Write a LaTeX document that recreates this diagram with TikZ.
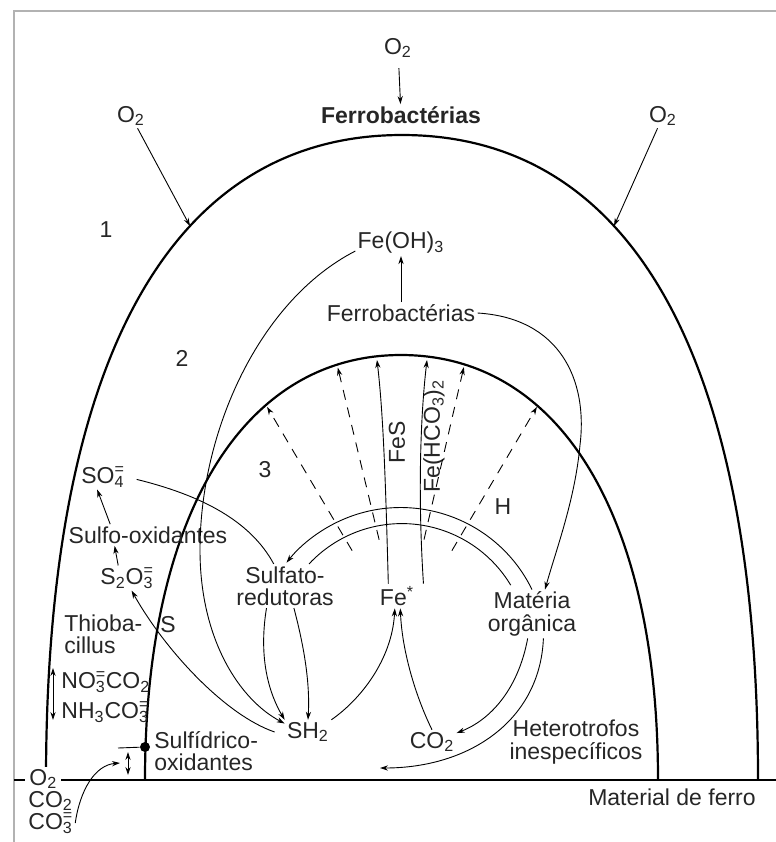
\documentclass[tikz,border=0pt]{standalone}
\usepackage{fontspec}
\setmainfont{Liberation Sans}
\usetikzlibrary{arrows.meta}

\newcommand{\chion}[2]{\rlap{\textsuperscript{#2}}\textsubscript{#1}}

\tikzset{
  arch/.style={line width=1.1pt},
  link/.style={line width=0.45pt},
  flux/.style={link,-{Stealth[length=4pt,width=2.6pt]}},
  dflux/.style={link,{Stealth[length=4pt,width=2.6pt]}-{Stealth[length=4pt,width=2.6pt]}},
  ray/.style={flux,dash pattern=on 5pt off 4pt},
  lbl/.style={inner sep=1pt,align=center,text=black!85},
}

\begin{document}
\begin{tikzpicture}[x=0.5pt,y=-0.5pt,font=\fontsize{11.5}{11.2}\selectfont]
\useasboundingbox (0,0) rectangle (776,842);
% frame and base line
\draw[gray!60,line width=0.6pt] (14,842) -- (14,11) -- (776,11);
\draw[line width=1pt] (14,780) -- (776,780);
% the two arches
\draw[arch] (46,780) .. controls (46,360.75) and (170.6,135) .. (402,135)
  .. controls (633.4,135) and (758,360.75) .. (758,780);
\draw[arch] (145,780) .. controls (145,516.5) and (242.3,355) .. (401,355)
  .. controls (560.3,355) and (658,516.5) .. (658,780);

% labels
\node[lbl] (o2top) at (398,48) {O\textsubscript{2}};
\node[lbl,font=\fontsize{11.5}{11.2}\selectfont\bfseries] (ferrotop) at (401,115) {Ferrobactérias};
\node[lbl] (o2left) at (131,116) {O\textsubscript{2}};
\node[lbl] (o2right) at (663,116) {O\textsubscript{2}};
\node[lbl] (one) at (106,230) {1};
\node[lbl] (two) at (182,358) {2};
\node[lbl] (three) at (265,470) {3};
\node[lbl] (hzone) at (503,507) {H};
\node[lbl] (feoh) at (401,243) {Fe(OH)\textsubscript{3}};
\node[lbl] (ferromid) at (401,313) {Ferrobactérias};
\node[lbl] (so4) at (103,477) {SO\chion{4}{=}};
\node[lbl] (sulfoox) at (148,535) {Sulfo-oxidantes};
\node[lbl] (s2o3) at (127,578) {S\textsubscript{2}O\chion{3}{=}};
\node[lbl,anchor=west,align=left] (thio) at (62,634) {Thioba-\\cillus};
\node[lbl] (sulf) at (168,625) {S};
\node[lbl,anchor=west] (no3) at (59,682) {NO\chion{3}{=}CO\textsubscript{2}};
\node[lbl,anchor=west] (nh3) at (59,712) {NH\textsubscript{3}CO\chion{3}{=}};
\node[lbl,anchor=west,align=left] (sulfid) at (152,751) {Sulfídrico-\\oxidantes};
\node[lbl] (sulfred) at (285,586) {Sulfato-\\redutoras};
\node[lbl] (fe) at (397,596) {Fe\textsuperscript{*}};
\node[lbl] (mat) at (532,614) {Matéria\\orgânica};
\node[lbl] (sh2) at (308,732) {SH\textsubscript{2}};
\node[lbl] (co2) at (432,742) {CO\textsubscript{2}};
\node[lbl] (het) at (576,742) {Heterotrofos\\inespecíficos};
\node[lbl] (matferro) at (672,797) {Material de ferro};
\node[lbl,fill=white,inner xsep=2pt,anchor=west] (o2bot) at (25,779) {O\textsubscript{2}};
\node[lbl,anchor=west] (co2bot) at (26,801) {CO\textsubscript{2}};
\node[lbl,anchor=west] (co3bot) at (26,823) {CO\chion{3}{=}};
\node[lbl,rotate=90] (fesl) at (397,442) {FeS};
\node[lbl,rotate=90] (fehcl) at (434,436) {Fe(HCO\textsubscript{3})\textsubscript{2}};
\node[circle,fill,inner sep=0pt,minimum size=5pt] (dot) at (145,747) {};

% free ends
\coordinate (arcl) at (190,226);
\coordinate (arcr) at (614,226);
\coordinate (fes) at (377,360);
\coordinate (fehc) at (427,360);
\coordinate (fesrc) at (402,635);
\coordinate (hetend) at (380,768);
\coordinate (tick) at (118,748);
\coordinate (tickin) at (120,763);
\coordinate (gapt) at (128,752);
\coordinate (gapb) at (128,775);
\coordinate (nup) at (53,668);
\coordinate (ndn) at (53,720);

% oxygen and iron bacteria
\draw[flux,shorten <=4pt] (o2top) -- (ferrotop);
\draw[flux] (o2left) -- (arcl);
\draw[flux] (o2right) -- (arcr);
\draw[flux] (ferromid) -- (feoh);
\draw[flux] (ferromid.east) .. controls (560,318) and (588,380) .. (580,445)
  .. controls (575,500) and (556,550) .. (mat.62);
\draw[flux] (feoh.190) .. controls (260,300) and (200,430) .. (200,550)
  .. controls (200,640) and (240,700) .. (sh2.160);

% sulphur cycle
\draw[link,shorten <=5pt] (so4.east) .. controls (200,495) and (250,520) .. (sulfred.117);
\draw[flux] (sulfoox.164) -- (so4.-115);
\draw[flux] (s2o3.125) -- (sulfoox.-162);
\draw[flux] ([xshift=-5pt]sh2.west) .. controls (225,715) and (165,650) .. (s2o3.-70);
\draw[flux] (sulfred.-130) .. controls (258,660) and (270,695) .. (sh2.north west);
\draw[flux] (sulfred.-68) .. controls (305,650) and (310,685) .. (sh2.north);
\draw[dflux] (nup) -- (ndn);
\draw[link] (tick) -- (dot);
\draw[dflux] (gapt) -- (gapb);
\draw[flux] (co3bot.east) .. controls (80,790) and (95,765) .. (tickin);

% iron and organic matter
\draw[flux] (sh2.north east) .. controls (360,700) and (392,660) .. (fe.-100);
\draw[flux] (co2.north) .. controls (415,695) and (402,650) .. (fe.-75);
\draw[flux] (mat.-100) .. controls (518,690) and (490,720) .. (co2.20);
\draw[flux] (mat.-65) .. controls (540,720) and (470,768) .. (hetend);
\draw[flux] (mat.north) arc[start angle=-26,end angle=-141.5,radius=146];
\draw[link] ([xshift=12pt]sulfred.north) arc[start angle=-137,end angle=-31,radius=127];
\draw[flux] (fe.125) .. controls (386,500) and (384,420) .. (fes);
\draw[flux] ([xshift=3.5pt]fe.north east) .. controls (418,500) and (420,420) .. (fehc);

% dashed rays
\draw[ray] (fesrc) ++(-120.6:98) -- ++(-120.6:167);
\draw[ray] (fesrc) ++(-103.5:98) -- ++(-103.5:177);
\draw[ray] (fesrc) ++(-77:98) -- ++(-77:177);
\draw[ray] (fesrc) ++(-59.4:98) -- ++(-59.4:167);
\end{tikzpicture}
\end{document}
